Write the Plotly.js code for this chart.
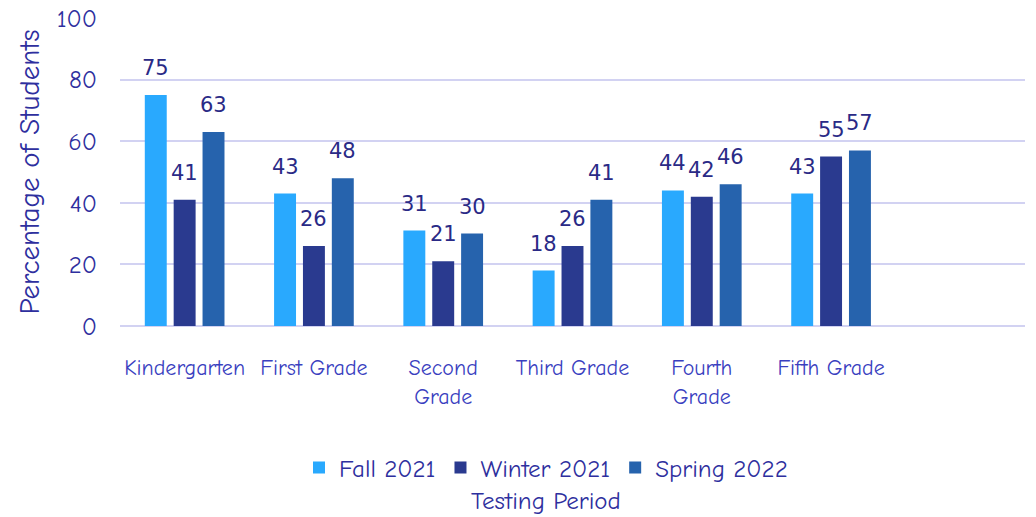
<!DOCTYPE html>
<html>
<head>
<meta charset="utf-8">
<script src="https://cdn.plot.ly/plotly-3.0.1.min.js"></script>
<style>html,body{margin:0;padding:0;background:#fff;}#chart{width:1036px;height:517px;}</style>
</head>
<body>
<div id="chart"></div>
<script>
const categories = ["Kindergarten", "First Grade", "Second<br>Grade", "Third Grade", "Fourth<br>Grade", "Fifth Grade"];
const seriesNames = ["Fall 2021", "Winter 2021", "Spring 2022"];
const fall2021 = [75, 43, 31, 18, 44, 43];
const winter2021 = [41, 26, 21, 26, 42, 55];
const spring2022 = [63, 48, 30, 41, 46, 57];
const colors = ["#29a9fe", "#2a3a8f", "#2663ad"];
const yTicks = [0, 20, 40, 60, 80, 100];

const fontFam = "'Comic Sans MS', 'Comic Neue', 'DejaVu Sans', sans-serif";
const labelFam = "'DejaVu Sans', Verdana, sans-serif";
const textColor = "#2e2f9e";
const labelColor = "#2a2a86";

const W = 1036, H = 517;
const M = {l: 120, r: 11, t: 18, b: 191};
const nSlots = 7;
const bargap = 0.33, bargroupgap = 0.24;
const catW = (W - M.l - M.r) / nSlots;
const slotW = catW * (1 - bargap) / 3;

const values = [fall2021, winter2021, spring2022];
const traces = values.map((v, i) => ({
  type: "bar",
  name: seriesNames[i],
  x: categories,
  y: v,
  marker: {color: colors[i]},
  hoverinfo: "skip"
}));

const annotations = [];
values.forEach((v, i) => {
  v.forEach((val, j) => {
    annotations.push({
      x: categories[j], y: val, xref: "x", yref: "y",
      text: String(val), showarrow: false,
      xanchor: "center", yanchor: "middle",
      xshift: (i - 1) * slotW, yshift: 27,
      font: {family: labelFam, size: 21, color: labelColor}
    });
  });
});
annotations.push({
  text: "Testing Period", xref: "paper", yref: "paper",
  x: (546 - M.l) / (W - M.l - M.r), y: -0.565, xanchor: "center", yanchor: "middle",
  showarrow: false, font: {family: fontFam, size: 25, color: textColor}
});

const layout = {
  width: W, height: H,
  margin: M,
  paper_bgcolor: "#ffffff", plot_bgcolor: "#ffffff",
  barmode: "group",
  bargap: bargap,
  bargroupgap: bargroupgap,
  showlegend: true,
  legend: {
    orientation: "h", x: (546 - M.l) / (W - M.l - M.r), xanchor: "center", y: -0.46, yanchor: "middle",
    font: {family: fontFam, size: 25, color: textColor},
    itemwidth: 30, traceorder: "normal"
  },
  xaxis: {
    type: "category",
    range: [-0.5, 6.5],
    showgrid: false, zeroline: false, showline: false,
    ticks: "", ticklabelstandoff: 26,
    tickfont: {family: fontFam, size: 22, color: "#3a3fbf"}
  },
  yaxis: {
    range: [0, 100],
    tickvals: yTicks,
    ticktext: yTicks.map(String),
    showgrid: true, gridcolor: "#d2d2f2", gridwidth: 2,
    zeroline: true, zerolinecolor: "#d2d2f2", zerolinewidth: 2,
    showline: false, ticks: "", ticklabelstandoff: 22,
    tickfont: {family: fontFam, size: 25, color: textColor},
    title: {text: "Percentage of Students", standoff: 8,
            font: {family: fontFam, size: 29, color: textColor}}
  },
  annotations: annotations
};

Plotly.newPlot("chart", traces, layout, {displayModeBar: false, staticPlot: true});
</script>
</body>
</html>
